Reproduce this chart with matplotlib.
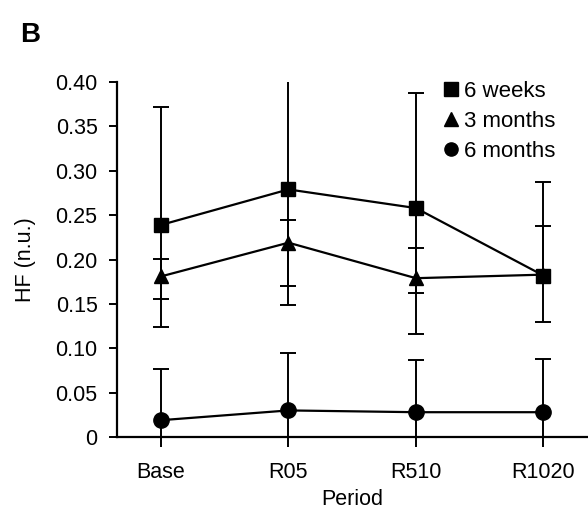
import numpy as np
import matplotlib
matplotlib.use("Agg")
import matplotlib.pyplot as plt

plt.rcParams['font.family'] = ['Liberation Sans', 'DejaVu Sans']

periods = ['Base', 'R05', 'R510', 'R1020']

# mean values
weeks6 = [0.239, 0.279, 0.258, 0.182]
months3 = [0.181, 0.219, 0.179, 0.183]
months6 = [0.019, 0.030, 0.028, 0.028]

# error bar ends (lower, upper)
weeks6_lo = [0.124, 0.149, 0.116, 0.130]
weeks6_hi = [0.372, 0.406, 0.388, 0.287]
months3_lo = [0.155, 0.170, 0.162, 0.183]
months3_hi = [0.201, 0.245, 0.213, 0.238]
months6_lo = [0.0, 0.0, 0.0, 0.0]
months6_hi = [0.077, 0.095, 0.087, 0.088]

series = [
  ('6 weeks', weeks6, weeks6_lo, weeks6_hi, 's', 9.5),
  ('3 months', months3, months3_lo, months3_hi, '^', 10),
  ('6 months', months6, months6_lo, months6_hi, 'o', 11),
]

fs = 15.5

fig = plt.figure(figsize=(5.88, 5.16), dpi=100)
ax = fig.add_axes([0.199, 0.153, 0.801, 0.688])

x = np.arange(len(periods))
handles = []
for name, vals, lo, hi, mk, ms in series:
  vals = np.array(vals)
  yerr = [vals - np.array(lo), np.array(hi) - vals]
  ax.errorbar(x, vals, yerr=yerr, color='black', elinewidth=1.4,
              capsize=5.5, capthick=1.4, fmt='none', zorder=2)
  ax.plot(x, vals, color='black', lw=1.6, marker=mk, ms=ms, zorder=3)
  h, = ax.plot([], [], ls='none', marker=mk, color='black', ms=9.5, label=name)
  handles.append(h)

ax.set_xlim(-0.345, 3.35)
ax.set_ylim(0, 0.40)
ax.set_xticks(x)
ax.set_xticklabels(periods)
yt = np.arange(0, 0.401, 0.05)
ax.set_yticks(yt)
ax.set_yticklabels(['0'] + [f'{v:.2f}' for v in yt[1:]])
ax.tick_params(labelsize=fs, width=1.4, length=6, direction='out')
ax.tick_params(axis='x', length=7, pad=11)
ax.tick_params(axis='y', pad=8)
for s in ['top', 'right']:
  ax.spines[s].set_visible(False)
for s in ['left', 'bottom']:
  ax.spines[s].set_linewidth(1.6)

ax.set_xlabel('Period', fontsize=fs, labelpad=4)
ax.set_ylabel('HF (n.u.)', fontsize=fs, labelpad=14)

ax.legend(handles=handles, loc='upper left', bbox_to_anchor=(0.755, 0.843),
          bbox_transform=fig.transFigure, frameon=False, fontsize=16,
          handlelength=0.6, handletextpad=0.3, labelspacing=0.41,
          borderpad=0, borderaxespad=0)

fig.text(0.034, 1 - 42 / 516, 'B', fontsize=20, fontweight='bold',
         va='baseline', ha='left')

fig.savefig('out.png', dpi=100)
